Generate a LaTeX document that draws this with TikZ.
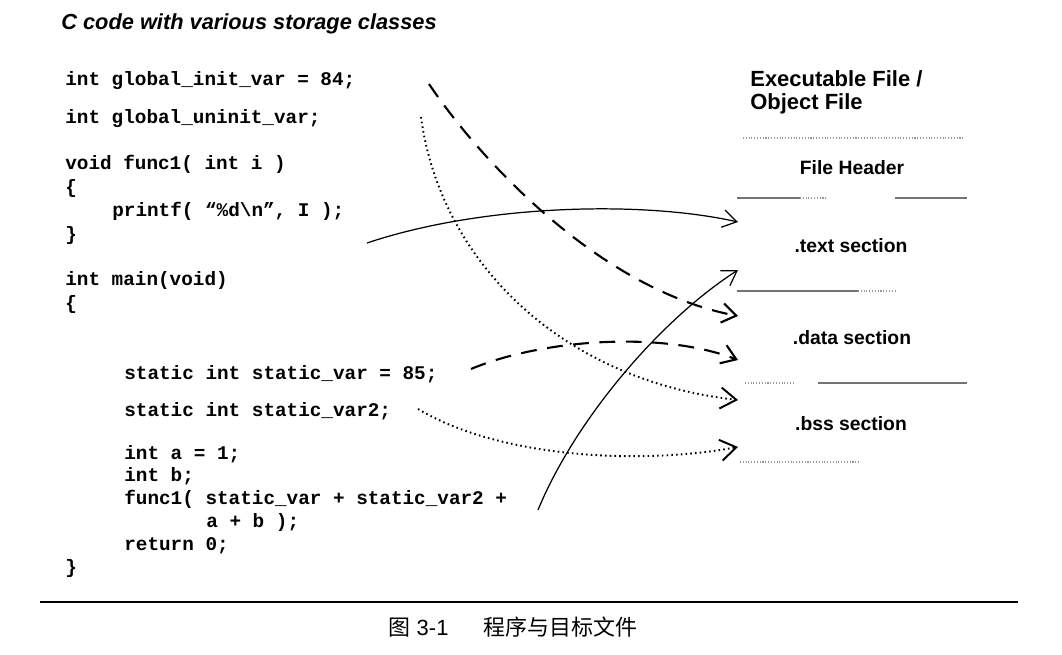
\documentclass[tikz,border=0pt]{standalone}
\usepackage{fontspec}
\setmainfont{Liberation Sans}
\setmonofont{Liberation Mono}
\newfontfamily\cjk{Noto Sans CJK SC}
\usetikzlibrary{arrows.meta}

\begin{document}
\begin{tikzpicture}[x=0.02cm, y=-0.02cm,
    every node/.style={inner sep=0pt},
    ln/.style={anchor=base west, font=\fontsize{11}{13}\selectfont\ttfamily\bfseries},
    sec/.style={anchor=base, font=\fontsize{11}{13}\selectfont\bfseries},
    hd/.style={anchor=base west, font=\fontsize{12.5}{15}\selectfont\bfseries},
    sep/.style={draw=black!55, line width=0.6pt},
    sepf/.style={sep, draw=black!40, densely dotted},
    fn/.style={-{Straight Barb[length=8pt, width=10pt]}, line width=0.7pt},
    dd/.style={-{Straight Barb[length=8pt, width=11pt]}, line width=1.2pt, dash pattern=on 9pt off 6pt},
    dt/.style={-{Straight Barb[length=9pt, width=12pt]}, line width=1.1pt, dash pattern=on 0.9pt off 1.8pt}
]
\useasboundingbox (0,0) rectangle (1062,655);

% title
\node[anchor=base west, font=\fontsize{12.4}{15}\selectfont\bfseries\itshape] (title) at (61,30) {C code with various storage classes};

% source code
\node[ln] (gi)   at (65,86)  {int global\_init\_var = 84;};
\node[ln] (gu)   at (65,124) {int global\_uninit\_var;};
\node[ln] (f1)   at (65,170) {void func1( int i )};
\node[ln] (f1o)  at (65,194) {\{};
\node[ln] (pf)   at (112,217) {printf( “\%d\textbackslash n”, I );};
\node[ln] (f1c)  at (65,241) {\}};
\node[ln] (mn)   at (65,286) {int main(void)};
\node[ln] (mno)  at (65,310) {\{};
\node[ln] (sv)   at (124,379) {static int static\_var = 85;};
\node[ln] (sv2)  at (124,417) {static int static\_var2;};
\node[ln] (va)   at (124,459) {int a = 1;};
\node[ln] (vb)   at (124,481) {int b;};
\node[ln] (call) at (124,504) {func1( static\_var + static\_var2 +};
\node[ln] (call2) at (206,527) {a + b );};
\node[ln] (ret)  at (124,550) {return 0;};
\node[ln] (mnc)  at (65,573) {\}};

% object file layout
\node[hd] (exe) at (750,87)  {Executable File /};
\node[hd] (obj) at (750,110) {Object File};
\node[sec] (hdr) at (852,175) {File Header};
\node[sec] (txt) at (851,253) {.text section};
\node[sec] (dat) at (852,344) {.data section};
\node[sec] (bss) at (851,430) {.bss section};

\draw[sepf] (743,138) -- (965,138);
\draw[sep] (737,198) -- (800,198);
\draw[sepf] (800,198) -- (828,198);
\draw[sep] (895,198) -- (967,198);
\draw[sep] (737,291) -- (858,291);
\draw[sepf] (858,291) -- (895,291);
\draw[sepf] (745,383) -- (793,383);
\draw[sep] (818,383) -- (967,383);
\draw[sepf] (740,462) -- (860,462);

% arrow ends
\coordinate (pfout) at (367,243);
\coordinate (callout) at (538,510);
\coordinate (giout) at (429,84);
\coordinate (svout) at (471,369);
\coordinate (guout) at (421,117);
\coordinate (sv2out) at (418,409);
\coordinate (txtA) at (738,222);
\coordinate (txtB) at (738,270);
\coordinate (datA) at (738,316);
\coordinate (datB) at (738,360);
\coordinate (bssA) at (738,400);
\coordinate (bssB) at (738,447);

\draw[fn] (pfout) .. controls (480,205) and (640,200) .. (txtA);
\draw[fn] (callout) .. controls (575,420) and (660,320) .. (txtB);
\draw[dd] (giout) .. controls (480,160) and (600,290) .. (datA);
\draw[dd] (svout) .. controls (540,340) and (660,330) .. (datB);
\draw[dt] (guout) .. controls (440,260) and (560,380) .. (bssA);
\draw[dt] (sv2out) .. controls (500,458) and (640,465) .. (bssB);

% caption
\coordinate (rl) at (40,602);
\coordinate (rr) at (1018,602);
\draw[line width=0.8pt] (rl) -- (rr);
\node[anchor=base, font=\fontsize{12.5}{15}\selectfont] (cap) at (513,635) {{\cjk 图} 3-1\hspace{1.6em}{\cjk 程序与目标文件}};
\end{tikzpicture}
\end{document}
